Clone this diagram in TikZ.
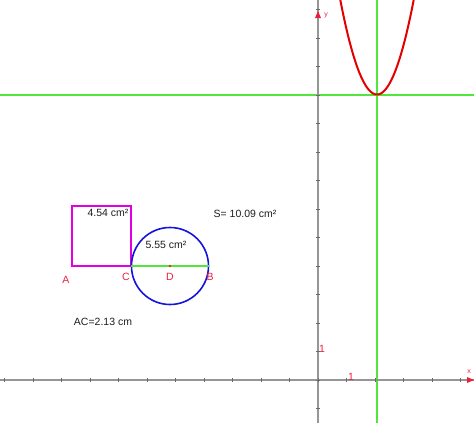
\documentclass[tikz,border=0pt]{standalone}
\usepackage{fontspec}
\setmainfont{Liberation Sans}
\usetikzlibrary{arrows.meta}
\definecolor{axisgray}{RGB}{150,150,150}
\definecolor{lblred}{RGB}{235,30,60}
\definecolor{lgreen}{RGB}{80,230,60}
\definecolor{sqmag}{RGB}{225,0,225}
\definecolor{circblue}{RGB}{20,20,220}
\definecolor{txtgray}{RGB}{30,30,30}
\begin{document}
\begin{tikzpicture}[x=1pt,y=-1pt,
  axisline/.style={draw=axisgray,line width=1.2pt},
  tick/.style={draw=axisgray!70!black,line width=0.8pt},
  ptlabel/.style={text=lblred,font=\fontsize{10.5}{11}\selectfont,inner sep=0pt},
  meas/.style={text=txtgray,font=\fontsize{10.5}{11}\selectfont,inner sep=0pt},
  guide/.style={draw=lgreen,line width=1.25pt}]
\useasboundingbox (0,0) rectangle (474,423);
\clip (0,0) rectangle (474,423);
% guide lines
\coordinate (gvT) at (377,0); \coordinate (gvB) at (377,423);
\coordinate (ghL) at (0,95); \coordinate (ghR) at (474,95);
\draw[guide] (gvT) -- (gvB);
\draw[guide] (ghL) -- (ghR);
% axes
\coordinate (xL) at (0,380); \coordinate (xR) at (474,380);
\coordinate (yT) at (318,0); \coordinate (yB) at (318,423);
\draw[axisline] (xL) -- (xR);
\draw[axisline] (yT) -- (yB);
\foreach \k in {-11,...,5} {\draw[tick] (318+\k*28.5,378) -- (318+\k*28.5,382);}
\foreach \k in {-1,...,13} {\draw[tick] (316,380-\k*28.5) -- (320,380-\k*28.5);}
\fill[lblred] (318,11) -- (315,18) -- (321,18) -- cycle;
\fill[lblred] (474,380) -- (467,377) -- (467,383) -- cycle;
\node[ptlabel,font=\fontsize{7}{8}\selectfont] (ylab) at (326,15) {y};
\node[ptlabel,font=\fontsize{7}{8}\selectfont] (xlab) at (469,372) {x};
\node[ptlabel] (one1) at (322,349) {1};
\node[ptlabel] (one2) at (351,377) {1};
% parabola
\draw[red!90!black,line width=2pt,domain=-40:40,samples=81]
  plot ({377+\x},{94.5-0.0702*\x*\x});
% square
\coordinate (A) at (72,266); \coordinate (C) at (131,266);
\draw[sqmag,line width=1.6pt] (A) rectangle (131,206);
% circle
\coordinate (D) at (170,266); \coordinate (B) at (208.5,266);
\draw[circblue,line width=1.6pt] (D) circle[radius=38.5];
\draw[lgreen,line width=2pt] (C) -- (B);
\fill[lblred] (D) circle[radius=1.3];
% labels
\node[ptlabel] (lA) at (66,280) {A};
\node[ptlabel] (lC) at (126,277) {C};
\node[ptlabel] (lD) at (170,277) {D};
\node[ptlabel] (lB) at (210,277) {B};
\node[meas] (m1) at (108,213) {4.54 cm²};
\node[meas] (m2) at (166,245) {5.55 cm²};
\node[meas] (m3) at (245,214) {S= 10.09 cm²};
\node[meas] (m4) at (103,322) {AC=2.13 cm};
\end{tikzpicture}
\end{document}
